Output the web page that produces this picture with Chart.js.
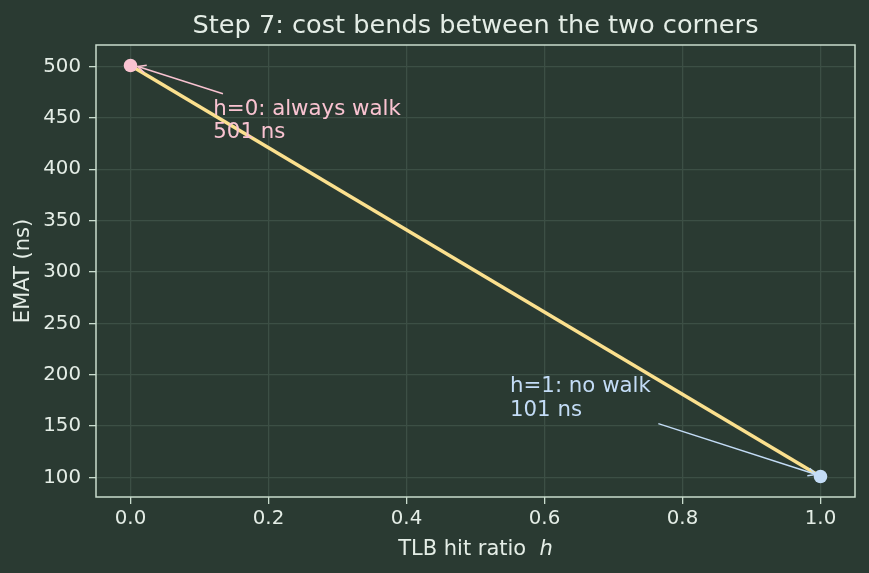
<!DOCTYPE html>
<html>
<head>
<meta charset="utf-8">
<script src="https://cdn.jsdelivr.net/npm/chart.js@4"></script>
<style>
  html, body { margin: 0; padding: 0; background: #2a3a32; }
  canvas { display: block; }
</style>
</head>
<body>
<canvas id="c" width="869" height="573"></canvas>
<script>
// ---- data ----
const hitRatio = [0, 1];
const ematNs = [501, 101];
const cornerH = [0, 1];
const cornerEmat = [501, 101];
const xTickValues = [0, 0.2, 0.4, 0.6, 0.8, 1.0];
const yTickValues = [100, 150, 200, 250, 300, 350, 400, 450, 500];
const titleText = 'Step 7: cost bends between the two corners';
const xLabelText = 'TLB hit ratio  ';
const xLabelVar = 'h';
const yLabelText = 'EMAT (ns)';
const noteLines0 = ['h=0: always walk', '501 ns'];
const noteLines1 = ['h=1: no walk', '101 ns'];
// annotation anchor (text) and arrow tail, in data units
const noteText0 = [0.12, 430];
const noteTail0 = [0.134, 473.5];
const noteHead0 = [0.0106, 500];
const noteText1 = [0.55, 160];
const noteTail1 = [0.765, 152.4];
const noteHead1 = [0.9938, 102.9];

// ---- style ----
const BG = '#2a3a32';
const GRID = '#3c4f45';
const SPINE = '#c9dccd';
const TEXT = '#e4ede6';
const LINE = '#fbe08e';
const PINK = '#f9c3d1';
const BLUE = '#c3dcf6';
const FONT = 'DejaVu Sans';

const decor = {
  id: 'decor',
  beforeDraw(chart) {
    const ctx = chart.ctx;
    ctx.save();
    ctx.fillStyle = BG;
    ctx.fillRect(0, 0, chart.width, chart.height);
    ctx.restore();
  },
  afterDraw(chart) {
    const ctx = chart.ctx;
    const a = chart.chartArea;
    const xs = chart.scales.x, ys = chart.scales.y;
    ctx.save();
    // spines
    ctx.strokeStyle = SPINE;
    ctx.lineWidth = 1.5;
    ctx.strokeRect(a.left, a.top, a.right - a.left, a.bottom - a.top);
    // title
    ctx.fillStyle = TEXT;
    ctx.font = '25.6px "' + FONT + '"';
    ctx.textAlign = 'center';
    ctx.textBaseline = 'alphabetic';
    ctx.fillText(titleText, (a.left + a.right) / 2, 33);
    // x label
    ctx.font = '21px "' + FONT + '"';
    const w1 = ctx.measureText(xLabelText).width;
    ctx.font = 'italic 21px "' + FONT + '"';
    const w2 = ctx.measureText(xLabelVar).width;
    let x0 = (a.left + a.right) / 2 - (w1 + w2) / 2;
    ctx.textAlign = 'left';
    ctx.font = '21px "' + FONT + '"';
    ctx.fillText(xLabelText, x0, 555);
    ctx.font = 'italic 21px "' + FONT + '"';
    ctx.fillText(xLabelVar, x0 + w1, 555);
    // y label
    ctx.save();
    ctx.translate(29, (a.top + a.bottom) / 2);
    ctx.rotate(-Math.PI / 2);
    ctx.font = '21px "' + FONT + '"';
    ctx.textAlign = 'center';
    ctx.fillText(yLabelText, 0, 0);
    ctx.restore();
    // annotations
    const notes = [
      [noteLines0, noteText0, noteTail0, noteHead0, PINK],
      [noteLines1, noteText1, noteTail1, noteHead1, BLUE]
    ];
    for (const [lines, tp, tail, head, col] of notes) {
      const tx = xs.getPixelForValue(tp[0]);
      const ty = ys.getPixelForValue(tp[1]);
      ctx.fillStyle = col;
      ctx.font = '21.3px "' + FONT + '"';
      ctx.textAlign = 'left';
      ctx.textBaseline = 'alphabetic';
      const lh = 23.8;
      for (let i = 0; i < lines.length; i++) {
        ctx.fillText(lines[i], tx, ty - (lines.length - 1 - i) * lh);
      }
      const x1 = xs.getPixelForValue(tail[0]), y1 = ys.getPixelForValue(tail[1]);
      const x2 = xs.getPixelForValue(head[0]), y2 = ys.getPixelForValue(head[1]);
      ctx.strokeStyle = col;
      ctx.lineWidth = 1.5;
      ctx.beginPath();
      ctx.moveTo(x1, y1);
      ctx.lineTo(x2, y2);
      ctx.stroke();
      const ang = Math.atan2(y2 - y1, x2 - x1);
      const hl = 9, hw = 0.45;
      ctx.beginPath();
      ctx.moveTo(x2 - hl * Math.cos(ang - hw), y2 - hl * Math.sin(ang - hw));
      ctx.lineTo(x2, y2);
      ctx.lineTo(x2 - hl * Math.cos(ang + hw), y2 - hl * Math.sin(ang + hw));
      ctx.stroke();
    }
    ctx.restore();
  }
};

const tickFont = { family: FONT, size: 19.8 };

new Chart(document.getElementById('c'), {
  type: 'scatter',
  data: {
    datasets: [
      {
        type: 'line',
        data: hitRatio.map((h, i) => ({ x: h, y: ematNs[i] })),
        borderColor: LINE,
        borderWidth: 3.5,
        pointRadius: 0,
        fill: false,
        order: 2
      },
      {
        data: [{ x: cornerH[0], y: cornerEmat[0] }],
        backgroundColor: PINK,
        borderColor: PINK,
        pointRadius: 6.8,
        borderWidth: 0,
        order: 1
      },
      {
        data: [{ x: cornerH[1], y: cornerEmat[1] }],
        backgroundColor: BLUE,
        borderColor: BLUE,
        pointRadius: 6.8,
        borderWidth: 0,
        order: 1
      }
    ]
  },
  options: {
    responsive: false,
    animation: false,
    devicePixelRatio: 1,
    layout: { padding: { top: 45, right: 14, left: 0, bottom: 0 } },
    plugins: { legend: { display: false }, tooltip: { enabled: false }, title: { display: false } },
    scales: {
      x: {
        type: 'linear',
        min: -0.05,
        max: 1.05,
        afterBuildTicks: s => { s.ticks = xTickValues.map(v => ({ value: v })); },
        afterFit: s => { s.height = 76; },
        ticks: { color: TEXT, font: tickFont, padding: 3, callback: v => v.toFixed(1), maxRotation: 0 },
        grid: { color: GRID, lineWidth: 1.3, tickColor: SPINE, tickLength: 7, drawTicks: true },
        border: { display: false }
      },
      y: {
        type: 'linear',
        min: 81,
        max: 521,
        afterBuildTicks: s => { s.ticks = yTickValues.map(v => ({ value: v })); },
        afterFit: s => { s.width = 96; },
        ticks: { color: TEXT, font: tickFont, padding: 8, callback: v => String(v) },
        grid: { color: GRID, lineWidth: 1.3, tickColor: SPINE, tickLength: 7, drawTicks: true },
        border: { display: false }
      }
    }
  },
  plugins: [decor]
});
</script>
</body>
</html>
